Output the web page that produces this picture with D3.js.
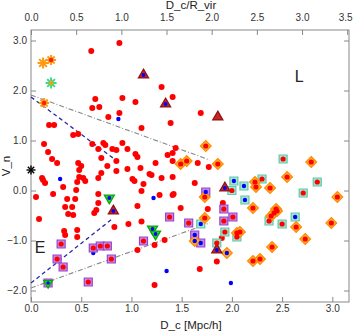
<!DOCTYPE html>
<html>
<head>
<meta charset="utf-8">
<script src="https://cdn.jsdelivr.net/npm/d3@7"></script>
<style>
  body { margin: 0; background: #fff; }
  text { font-family: "Liberation Sans", Arial, sans-serif; }
</style>
</head>
<body>
<div id="chart"></div>
<script>
// ---- Data: [D_c (Mpc/h), V_n] ----
const redDots = [
  [0.60,2.79],[0.88,2.95],[0.64,1.83],[0.61,1.65],[0.68,1.67],[0.91,1.85],[1.04,1.77],
  [0.77,1.47],[0.88,1.55],[1.30,2.07],[1.41,1.87],[1.69,1.55],[1.39,1.35],[1.10,1.25],
  [0.18,1.31],[0.23,1.31],[0.42,1.11],[0.47,1.13],[0.13,0.93],[0.61,0.93],[0.72,0.95],
  [0.74,0.91],[0.91,0.95],[0.17,0.77],[0.67,0.83],[0.81,0.83],[0.85,0.81],[0.96,0.83],
  [1.04,0.73],[0.21,0.63],[0.26,0.55],[0.47,0.55],[0.50,0.49],[0.70,0.65],[0.85,0.59],
  [1.06,0.67],[0.76,0.49],[0.48,0.41],[0.70,0.35],[0.96,0.43],[0.85,0.39],[0.11,0.25],
  [0.12,0.21],[0.14,0.15],[0.46,0.17],[0.48,0.27],[0.52,0.25],[0.54,0.19],[0.67,0.25],
  [0.22,-0.07],[0.32,0.07],[0.45,0.01],[0.05,-0.13],[0.36,-0.17],[0.44,-0.17],[0.67,-0.07],
  [0.41,-0.33],[0.34,-0.33],[0.37,-0.47],[0.42,-0.49],[0.63,-0.45],[0.65,-0.39],[0.67,-0.25],
  [0.08,-0.57],[0.33,-0.81],[0.34,-0.89],[0.46,-0.79],[0.46,-0.93],[0.97,-0.67],[0.83,-0.73],
  [1.06,-1.19],[1.09,0.45],[1.01,0.23],[1.03,0.19],[1.12,0.13],[1.10,-0.01],[1.06,-0.31],
  [1.44,0.85],[1.41,0.75],[1.36,0.71],[1.24,0.55],[1.41,0.59],[1.66,0.55],[1.77,0.47],
  [1.18,0.33],[1.20,0.31],[1.30,0.25],[1.41,0.27],[1.63,0.15],[1.28,-0.09],[1.41,-0.09],
  [1.42,-0.07],[1.91,-0.25],[1.49,-0.35],[1.76,-0.37],[1.10,-0.62],[1.33,-0.99],[1.23,-1.09],
  [1.90,-0.95],[1.85,-1.42],[1.68,-1.57],[1.23,-1.89]
];
const blueDots = [[0.87,1.43],[0.29,0.23],[1.22,-0.15],[1.35,-1.61],[1.99,-1.85],[0.62,-1.25]];
const triBlue = [[1.12,2.31],[1.34,1.73],[0.82,-0.41],[1.93,0.05],[1.85,-1.19]];
const triPlain = [[1.86,1.47]];
const greenTri = [[0.78,-0.15],[1.21,-0.77],[1.24,-0.87]];
const purpleRed = [
  [0.30,-1.07],[0.26,-1.37],[0.32,-1.53],[0.62,-1.15],[0.69,-1.11],[0.76,-1.11],[0.80,-1.37],
  [0.57,-1.83],[1.38,-0.53],[1.12,-1.01],[1.57,-0.65],[1.92,-0.37],[2.01,-0.53],[1.92,-0.61]
];
const purpleBlue = [[1.74,-0.03],[1.63,-0.89],[1.69,-1.05]];
const purpleGreen = [[0.17,-1.85]];
const tealRed = [
  [2.00,0.00],[1.85,-1.05],[2.51,0.63],[2.30,0.23],[2.85,0.17],[2.71,-0.05],[2.50,-0.67],
  [2.37,-0.61],[2.05,-0.93],[1.93,-0.83]
];
const tealBlue = [[2.02,0.19],[2.12,0.09],[2.13,-0.19],[1.69,-0.67],[2.63,-0.53]];
const orangeRed = [
  [1.74,0.89],[1.49,0.53],[1.55,0.59],[1.86,0.53],[1.73,-0.13],[1.73,-0.55],[2.05,-0.85],
  [2.08,-0.83],[2.79,0.57],[2.23,0.17],[2.24,0.07],[2.38,0.05],[2.55,0.27],[2.21,-0.35],
  [2.44,-0.37],[3.05,-0.13],[2.42,-0.45],[2.45,-0.41],[2.39,-0.51],[2.64,-0.73],[2.99,-0.65],
  [2.73,-0.97],[2.40,-1.13],[2.21,-1.41],[2.28,-1.37]
];
const orangeBlue = [[1.63,-1.01],[1.95,-1.25]];
const starOrange = [[0.12,2.55]];
const starOrangeRed = [[0.20,2.61],[0.13,1.75]];
const starGreen = [[0.20,2.15]];
const starBlack = [[0.0,0.41]];

const blueUpper = [[0, 1.87], [0.87, 0.57]];
const blueLower = [[0, -1.85], [0.82, -0.55]];
const grayUpper = [[0, 1.91], [1.78, 0.61]];
const grayLower = [[0, -1.95], [1.78, -0.65]];

const xTicks = [0, 0.5, 1.0, 1.5, 2.0, 2.5, 3.0];
const xTopTicks = [0, 0.5, 1.0, 1.5, 2.0, 2.5, 3.0, 3.5];
const yTicks = [-2, -1, 0, 1, 2, 3];

// ---- Layout ----
const W = 353, H = 334;
const L = 31, R = 349, T = 30, B = 302;

const x = d3.scaleLinear().domain([0, 3.166]).range([L, R]);
const xTop = d3.scaleLinear().domain([0, 3.52]).range([L, R]);
const y = d3.scaleLinear().domain([-2.23, 3.21]).range([B, T]);

const svg = d3.select("#chart").append("svg").attr("width", W).attr("height", H);

const fmt = d3.format(".1f");
function styleAxis(g) {
  g.select(".domain").remove();
  g.selectAll(".tick line").attr("stroke", "#888");
  g.selectAll(".tick text").attr("fill", "#333").attr("font-size", 10);
}

svg.append("g").attr("transform", `translate(0,${B})`)
  .call(d3.axisBottom(x).tickValues(xTicks).tickFormat(fmt).tickSize(-5).tickPadding(3))
  .call(styleAxis);
svg.append("g").attr("transform", `translate(0,${T})`)
  .call(d3.axisTop(xTop).tickValues(xTopTicks).tickFormat(fmt).tickSize(-5).tickPadding(9))
  .call(styleAxis)
  .call(g => g.selectAll(".tick:last-of-type text").attr("dx", -2));
svg.append("g").attr("transform", `translate(${L},0)`)
  .call(d3.axisLeft(y).tickValues(yTicks).tickFormat(fmt).tickSize(-5).tickPadding(4))
  .call(styleAxis);
svg.append("g").attr("transform", `translate(${R},0)`)
  .call(d3.axisRight(y).tickValues(yTicks).tickFormat("").tickSize(-5))
  .call(styleAxis);

svg.append("rect").attr("x", L).attr("y", T).attr("width", R - L).attr("height", B - T)
  .attr("fill", "none").attr("stroke", "#888").attr("stroke-width", 1);

// titles
svg.append("text").attr("x", 191).attr("y", 329).attr("text-anchor", "middle")
  .attr("font-size", 11.5).attr("fill", "#222").text("D_c [Mpc/h]");
svg.append("text").attr("x", 191).attr("y", 9).attr("text-anchor", "middle")
  .attr("font-size", 11.5).attr("fill", "#222").text("D_c/R_vir");
svg.append("text").attr("transform", "translate(10,166) rotate(-90)").attr("text-anchor", "middle")
  .attr("font-size", 11.5).attr("fill", "#222").text("V_n");
svg.append("text").attr("x", x(2.67)).attr("y", y(2.17)).attr("text-anchor", "middle")
  .attr("font-size", 16).attr("fill", "#222").text("L");
svg.append("text").attr("x", x(0.09)).attr("y", y(-1.25)).attr("text-anchor", "middle")
  .attr("font-size", 16).attr("fill", "#222").text("E");

// ---- Lines ----
const line = d3.line().x(d => x(d[0])).y(d => y(d[1]));
[blueUpper, blueLower].forEach(l => svg.append("path").attr("d", line(l)).attr("fill", "none")
  .attr("stroke", "#2a2aa8").attr("stroke-width", 1.3).attr("stroke-dasharray", "4,3"));
[grayUpper, grayLower].forEach(l => svg.append("path").attr("d", line(l)).attr("fill", "none")
  .attr("stroke", "#888").attr("stroke-width", 1.1).attr("stroke-dasharray", "5,2,1,2"));

// ---- Markers ----
const g = svg.append("g");
const sym = (type, size) => d3.symbol().type(type).size(size)();

function dots(data, r, col) {
  g.selectAll(null).data(data).join("circle")
    .attr("cx", d => x(d[0])).attr("cy", d => y(d[1])).attr("r", r).attr("fill", col);
}
function shapes(data, type, size, fill, stroke, rot) {
  g.selectAll(null).data(data).join("path")
    .attr("transform", d => `translate(${x(d[0])},${y(d[1])})${rot ? " rotate(" + rot + ")" : ""}`)
    .attr("d", sym(type, size)).attr("fill", fill).attr("stroke", stroke).attr("stroke-width", 1.2);
}
function stars(data, r, col, w) {
  data.forEach(d => {
    const cx = x(d[0]), cy = y(d[1]);
    d3.range(8).forEach(k => {
      const a = k * Math.PI / 4;
      g.append("line").attr("x1", cx).attr("y1", cy)
        .attr("x2", cx + r * Math.cos(a)).attr("y2", cy + r * Math.sin(a))
        .attr("stroke", col).attr("stroke-width", w);
    });
  });
}

dots(redDots, 3, "#ff0000");
dots(blueDots, 2.2, "#0000ff");

shapes(purpleRed, d3.symbolSquare, 64, "#c48be6", "#9a44cc");
shapes(purpleBlue, d3.symbolSquare, 64, "#c48be6", "#9a44cc");
shapes(purpleGreen, d3.symbolSquare, 64, "#c48be6", "#9a44cc");
shapes(tealRed, d3.symbolSquare, 64, "#a6e6d2", "#62c8a8");
shapes(tealBlue, d3.symbolSquare, 64, "#a6e6d2", "#62c8a8");
shapes(orangeRed, d3.symbolSquare, 58, "#ffb02e", "#ff8a00", 45);
shapes(orangeBlue, d3.symbolSquare, 58, "#ffb02e", "#ff8a00", 45);
shapes(triBlue, d3.symbolTriangle, 45, "#cc2222", "#8a1515");
shapes(triPlain, d3.symbolTriangle, 45, "#cc2222", "#8a1515");
shapes(greenTri, d3.symbolTriangle, 45, "#22e022", "#12a012", 180);
shapes(purpleGreen, d3.symbolTriangle, 35, "#22e022", "#12a012", 180);

dots(purpleRed, 2.6, "#ff0000");
dots(tealRed, 2.6, "#ff0000");
dots(orangeRed, 2.6, "#ff0000");
dots(purpleBlue, 2.2, "#0000ff");
dots(tealBlue, 2.2, "#0000ff");
dots(orangeBlue, 2.2, "#0000ff");
dots(triBlue, 1.9, "#0000ff");
dots(greenTri, 1.9, "#0000ff");
dots(purpleGreen, 1.7, "#0000ff");

stars(starOrange, 5.5, "#ff9a10", 2);
stars(starOrangeRed, 5, "#ff9a10", 2);
dots(starOrangeRed, 2.2, "#ff2000");
stars(starGreen, 5.5, "#33dd88", 2);
dots(starGreen, 2.2, "#ff9a10");
stars(starBlack, 4.5, "#000", 1.4);
</script>
</body>
</html>
